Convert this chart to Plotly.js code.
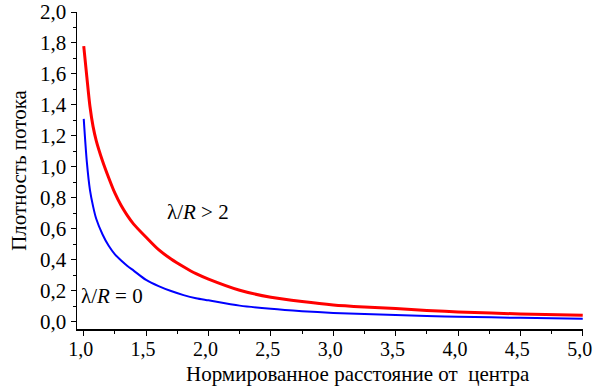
<!DOCTYPE html>
<html>
<head>
<meta charset="utf-8">
<script src="https://cdn.plot.ly/plotly-3.0.1.min.js"></script>
<style>html,body{margin:0;padding:0;background:#fff;}#chart{width:594px;height:387px;}</style>
</head>
<body>
<div id="chart"></div>
<script>
const xValues = [1.0, 1.025, 1.05, 1.075, 1.1, 1.15, 1.2, 1.25, 1.3, 1.35, 1.4, 1.5, 1.6, 1.7, 1.8, 1.9, 2.0, 2.25, 2.5, 2.75, 3.0, 3.25, 3.5, 3.75, 4.0, 4.5, 5.0];
const redValues = [1.78, 1.58, 1.39, 1.26, 1.17, 1.04, 0.93, 0.83, 0.75, 0.685, 0.63, 0.545, 0.465, 0.405, 0.355, 0.31, 0.275, 0.203, 0.158, 0.13, 0.108, 0.095, 0.085, 0.073, 0.063, 0.05, 0.041];
const blueValues = [1.31, 1.03, 0.85, 0.745, 0.665, 0.565, 0.49, 0.435, 0.395, 0.36, 0.33, 0.27, 0.23, 0.198, 0.172, 0.152, 0.138, 0.104, 0.083, 0.068, 0.057, 0.05, 0.043, 0.037, 0.032, 0.025, 0.019];
const xTitle = 'Нормированное расстояние от  центра';
const yTitle = 'Плотность потока';
const labelRed = 'λ/<i>R</i> > 2';
const labelBlue = 'λ/<i>R</i> = 0';

const font = '"Liberation Serif", "Times New Roman", serif';
const data = [
  {x: xValues, y: redValues, type: 'scatter', mode: 'lines', line: {color: '#ff0000', width: 3, shape: 'spline', smoothing: 0.8}, hoverinfo: 'skip'},
  {x: xValues, y: blueValues, type: 'scatter', mode: 'lines', line: {color: '#0000ff', width: 2, shape: 'spline', smoothing: 0.8}, hoverinfo: 'skip'}
];
const layout = {
  width: 594, height: 387,
  margin: {l: 77, r: 11, t: 12, b: 58},
  paper_bgcolor: '#fff', plot_bgcolor: '#fff',
  showlegend: false,
  separators: ', ',
  font: {family: font, size: 21, color: '#000'},
  xaxis: {
    range: [0.946, 5.002], dtick: 0.5, tick0: 1.0, tickformat: '.1f',
    ticks: 'outside', ticklen: 5, tickwidth: 1, tickcolor: '#000',
    minor: {dtick: 0.25, tick0: 1.0, ticks: 'outside', ticklen: 3, tickcolor: '#000'},
    showline: true, linecolor: '#000', linewidth: 1.5,
    showgrid: false, zeroline: false,
    ticklabeloverflow: 'allow',
    ticklabelshift: -3,
    ticklabelstandoff: -4,
    tickfont: {family: font, size: 20}
  },
  yaxis: {
    range: [-0.047, 2.0], dtick: 0.2, tick0: 0, tickformat: '.1f',
    ticks: 'outside', ticklen: 5, tickwidth: 1, tickcolor: '#000',
    minor: {dtick: 0.1, ticks: 'outside', ticklen: 3, tickcolor: '#000'},
    showline: true, linecolor: '#000', linewidth: 1.5,
    showgrid: false, zeroline: false,
    ticklabeloverflow: 'allow',
    tickfont: {family: font, size: 21},
    title: {text: yTitle, font: {family: font, size: 21}, standoff: 7}
  },
  annotations: [
    {x: 0.5553, y: -0.1435, xref: 'paper', yref: 'paper', text: xTitle, showarrow: false, xanchor: 'center', yanchor: 'middle', borderpad: 0, font: {family: font, size: 21, color: '#000'}},
    {x: 1.65, y: 0.71, xref: 'x', yref: 'y', text: labelRed, showarrow: false, xanchor: 'left', yanchor: 'middle', font: {family: font, size: 21, color: '#000'}},
    {x: 0.965, y: 0.166, xref: 'x', yref: 'y', text: labelBlue, showarrow: false, xanchor: 'left', yanchor: 'middle', font: {family: font, size: 21, color: '#000'}}
  ]
};
Plotly.newPlot('chart', data, layout, {staticPlot: true, displayModeBar: false});
</script>
</body>
</html>
